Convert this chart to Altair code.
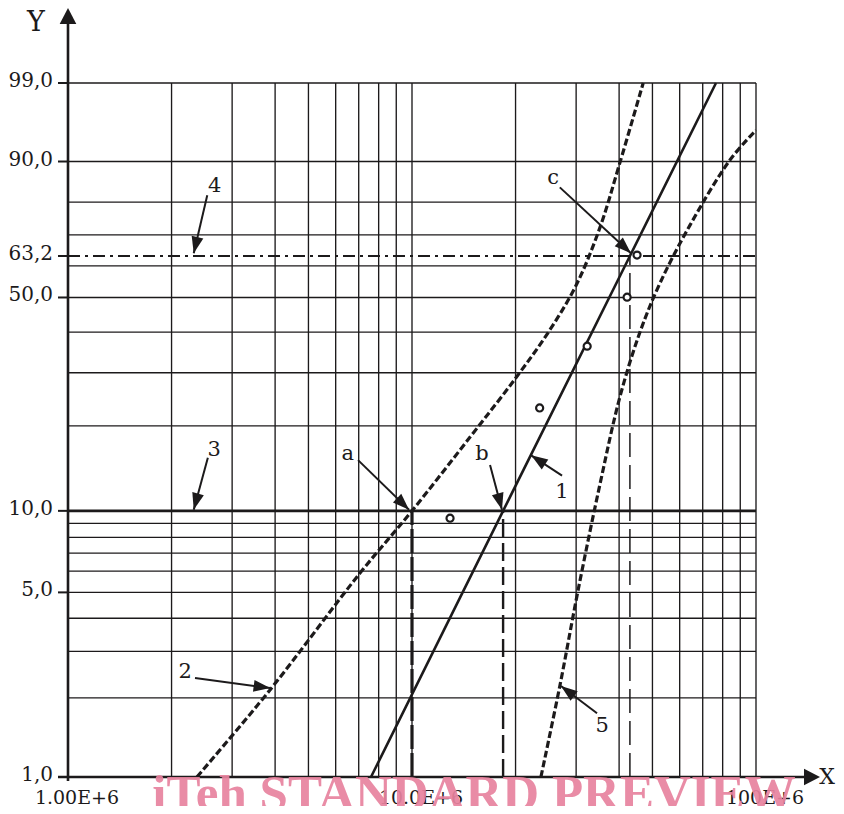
import math
import altair as alt
import pandas as pd

# ---------------- data ----------------
x_grid = [1e6 * k for k in range(2, 11)] + [1e7 * k for k in range(2, 11)]
F_grid = [2, 3, 4, 5, 6, 7, 8, 9, 20, 30, 40, 50, 60, 70, 80, 90, 99]
y_tick_vals = [1, 5, 10, 50, 63.2, 90, 99]
y_tick_text = ["1,0", "5,0", "10,0", "50,0", "63,2", "90,0", "99,0"]
x_tick_vals = [1e6, 1e7, 1e8]
x_tick_text = ["1.00E+6", "10.0E+6", "100E+6"]

# line 1 (fitted Weibull line)
line1_X = [7.6e6, 18.4e6, 43.0e6, 76.5e6]
line1_F = [1, 10, 63.2, 99]
# line 2 (lower confidence bound)
lower_X = [2.37e6, 3.86e6, 7.06e6, 10.0e6, 14.75e6, 20.0e6, 24.85e6, 30.0e6, 35.2e6, 40.0e6, 47.0e6]
lower_F = [1, 2.14, 5.9, 10.0, 18.3, 28.8, 39.8, 53.8, 72.4, 89.2, 99]
# line 5 (upper confidence bound)
upper_X = [23.7e6, 26.9e6, 30.4e6, 35.2e6, 40.2e6, 46.0e6, 52.6e6, 64.3e6, 84.0e6, 100.0e6]
upper_F = [1, 2.22, 5.1, 12.5, 25.0, 40.0, 54.5, 73.1, 90.3, 95.2]
# observed points
pts_X = [12.9e6, 23.5e6, 32.3e6, 42.2e6, 45.1e6]
pts_F = [9.4, 23.0, 36.3, 50.1, 63.5]

# reference levels / verticals
F_line3 = 10
F_line4 = 63.2
a_X = 10.0e6
b_X = 18.4e6
c_X = 43.0e6

# annotations
ann_text = ["a", "b", "c", "1", "2", "3", "4", "5"]
ann_lab_X = [6.51e6, 15.98e6, 25.7e6, 27.3e6, 2.19e6, 2.66e6, 2.67e6, 35.7e6]
ann_lab_F = [16.0, 16.0, 86.3, 11.7, 2.51, 16.5, 84.3, 1.56]
ann_from_X = [6.97e6, 16.86e6, 26.9e6, 27.3e6, 2.34e6, 2.55e6, 2.54e6, 34.5e6]
ann_from_F = [15.2, 14.6, 84.0, 13.4, 2.38, 15.5, 81.9, 1.75]
ann_to_X = [9.8e6, 18.26e6, 43.3e6, 22.2e6, 3.87e6, 2.32e6, 2.32e6, 27.1e6]
ann_to_F = [10.1, 10.1, 64.1, 15.8, 2.18, 10.1, 64.1, 2.22]

watermark = "iTeh STANDARD PREVIEW"

# ---------------- scales ----------------
W, H = 688, 694


def wb(F):
    return math.log(-math.log(1 - F / 100.0))


XD = [1e6, 1e8]
YD = [wb(1), wb(99)]
xs = alt.Scale(type="log", domain=XD, nice=False)
ys = alt.Scale(domain=YD, nice=False, zero=False)


def px(X):
    return (math.log10(X) - 6) / 2 * W


def py(F):
    return H - (wb(F) - YD[0]) / (YD[1] - YD[0]) * H


INK = "#1c1a1b"
FONT = "DejaVu Serif"


def X(field):
    return alt.X(field, type="quantitative", scale=xs, axis=None)


def Y(field):
    return alt.Y(field, type="quantitative", scale=ys, axis=None)


one = pd.DataFrame({"k": [0]})

# grid
hgrid = alt.Chart(pd.DataFrame({"w": [wb(f) for f in F_grid], "x1": XD[0], "x2": XD[1]})).mark_rule(
    color=INK, strokeWidth=1.35).encode(x=X("x1"), x2="x2", y=Y("w"))
vgrid = alt.Chart(pd.DataFrame({"x": x_grid, "w1": wb(1), "w2": wb(99)})).mark_rule(
    color=INK, strokeWidth=1.35).encode(x=X("x"), y=Y("w1"), y2="w2")

line3 = alt.Chart(pd.DataFrame({"w": [wb(F_line3)], "x1": XD[0], "x2": XD[1]})).mark_rule(
    color=INK, strokeWidth=2.6).encode(x=X("x1"), x2="x2", y=Y("w"))
line4 = alt.Chart(pd.DataFrame({"w": [wb(F_line4)], "x1": XD[0], "x2": XD[1]})).mark_rule(
    color=INK, strokeWidth=2, strokeDash=[12, 5, 3, 5]).encode(x=X("x1"), x2="x2", y=Y("w"))

va = alt.Chart(pd.DataFrame({"x": [a_X], "w1": wb(1), "w2": wb(F_line3)})).mark_rule(
    color=INK, strokeWidth=3.2, strokeDash=[24, 4]).encode(x=X("x"), y=Y("w1"), y2="w2")
vb = alt.Chart(pd.DataFrame({"x": [b_X], "w1": wb(1), "w2": wb(F_line3)})).mark_rule(
    color=INK, strokeWidth=2.4, strokeDash=[18, 6]).encode(x=X("x"), y=Y("w1"), y2="w2")
vc = alt.Chart(pd.DataFrame({"x": [c_X], "w1": wb(1), "w2": wb(F_line4)})).mark_rule(
    color=INK, strokeWidth=1.5, strokeDash=[24, 8]).encode(x=X("x"), y=Y("w1"), y2="w2")

l1 = alt.Chart(pd.DataFrame({"x": line1_X, "w": [wb(f) for f in line1_F]})).mark_line(
    color=INK, strokeWidth=2.6).encode(x=X("x"), y=Y("w"), order="x:Q")
l2 = alt.Chart(pd.DataFrame({"x": lower_X, "w": [wb(f) for f in lower_F]})).mark_line(
    color=INK, strokeWidth=3.2, strokeDash=[7, 3], interpolate="catmull-rom").encode(
    x=X("x"), y=Y("w"), order="x:Q")
l5 = alt.Chart(pd.DataFrame({"x": upper_X, "w": [wb(f) for f in upper_F]})).mark_line(
    color=INK, strokeWidth=3.2, strokeDash=[7, 3], interpolate="catmull-rom").encode(
    x=X("x"), y=Y("w"), order="x:Q")

pts = alt.Chart(pd.DataFrame({"x": pts_X, "w": [wb(f) for f in pts_F]})).mark_point(
    shape="circle", filled=True, fill="white", stroke=INK, strokeWidth=2.2, size=50, opacity=1).encode(
    x=X("x"), y=Y("w"))

# annotation arrows
angs = []
for fx, ff, tx, tf in zip(ann_from_X, ann_from_F, ann_to_X, ann_to_F):
    a = math.degrees(math.atan2(py(tf) - py(ff), px(tx) - px(fx))) % 360
    angs.append(a)
arr = pd.DataFrame({"x1": ann_from_X, "w1": [wb(f) for f in ann_from_F],
                    "x2": ann_to_X, "w2": [wb(f) for f in ann_to_F], "ang": angs})
shafts = alt.Chart(arr).mark_rule(color=INK, strokeWidth=2).encode(
    x=X("x1"), y=Y("w1"), x2="x2", y2="w2")
HEAD = "M0,0L-1,-0.36L-1,0.36Z"
heads = alt.Chart(arr).mark_point(shape=HEAD, filled=True, color=INK, size=1100, opacity=1).encode(
    x=X("x2"), y=Y("w2"), angle=alt.Angle("ang:Q", scale=None))
labs = alt.Chart(pd.DataFrame({"x": ann_lab_X, "w": [wb(f) for f in ann_lab_F], "t": ann_text})).mark_text(
    font=FONT, fontSize=21, color=INK, align="center", baseline="middle").encode(
    x=X("x"), y=Y("w"), text="t:N")

# axes
yticks = alt.Chart(pd.DataFrame({"w": [wb(f) for f in y_tick_vals]})).mark_rule(
    color=INK, strokeWidth=2).encode(x=alt.value(-10), x2=alt.value(0), y=Y("w"))
ylabels = alt.Chart(pd.DataFrame({"w": [wb(f) for f in y_tick_vals], "t": y_tick_text})).mark_text(
    font=FONT, fontSize=20, color=INK, align="right", baseline="middle", dx=-15, dy=-2).encode(
    x=alt.value(0), y=Y("w"), text="t:N")
xlabels = alt.Chart(pd.DataFrame({"x": x_tick_vals, "t": x_tick_text})).mark_text(
    font=FONT, fontSize=19, color=INK, align="center", baseline="middle", dx=9, dy=21).encode(
    x=X("x"), y=alt.value(H), text="t:N")

yaxis = alt.Chart(one).mark_rule(color=INK, strokeWidth=2.6).encode(
    x=alt.value(0), y=alt.value(H + 4), y2=alt.value(-62))
xaxis = alt.Chart(one).mark_rule(color=INK, strokeWidth=2.6).encode(
    x=alt.value(-10), x2=alt.value(740), y=alt.value(H))
AX_HEAD = "M0,0L-1,-0.52L-1,0.52Z"
yarrow = alt.Chart(one).mark_point(shape=AX_HEAD, filled=True, color=INK, size=1024, opacity=1).encode(
    x=alt.value(0), y=alt.value(-75), angle=alt.value(270))
xarrow = alt.Chart(one).mark_point(shape=AX_HEAD, filled=True, color=INK, size=1024, opacity=1).encode(
    x=alt.value(752), y=alt.value(H), angle=alt.value(0))
ytitle = alt.Chart(one).mark_text(text="Y", font=FONT, fontSize=27, color=INK, align="center",
                                  baseline="middle").encode(x=alt.value(-32), y=alt.value(-60))
xtitle = alt.Chart(one).mark_text(text="X", font=FONT, fontSize=22, color=INK, align="right",
                                  baseline="middle").encode(x=alt.value(767), y=alt.value(H))

wm = alt.Chart(one).mark_text(text=watermark, font="Liberation Serif", fontWeight="bold", fontSize=51,
                              color="#e8839f", opacity=0.92, align="center", baseline="alphabetic").encode(
    x=alt.value(406), y=alt.value(H + 33))

chart = alt.layer(
    hgrid, vgrid, line3, line4, va, vb, vc, l1, l2, l5, pts,
    shafts, heads, labs, yticks, ylabels, xlabels, yaxis, xaxis, yarrow, xarrow, ytitle, xtitle, wm
).properties(
    width=W, height=H,
    autosize=alt.AutoSizeParams(type="none"),
    padding={"left": 60, "top": 75, "right": 80, "bottom": 29},
).configure_view(stroke=None)

chart.save("out.html", embed_options={"renderer": "svg", "actions": False})
